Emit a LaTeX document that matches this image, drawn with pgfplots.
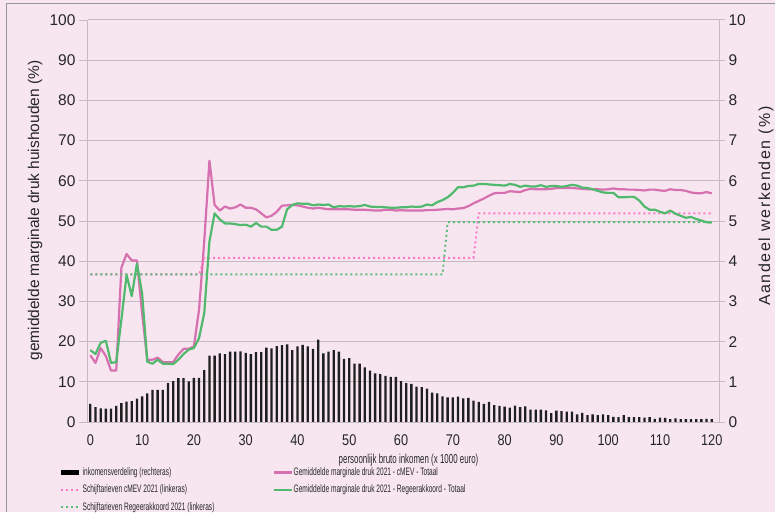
\documentclass[border=0pt]{standalone}
\usepackage{fontspec}
\setmainfont{Liberation Sans}
\newfontfamily\narrow[FakeStretch=0.61]{Liberation Sans}
\newfontfamily\narrowx[FakeStretch=0.82]{Liberation Sans}
\newfontfamily\spaced[LetterSpace=10]{Liberation Sans}
\usepackage{pgfplots}
\pgfplotsset{compat=1.18}
\usepackage{pgfplotstable}
\usetikzlibrary{backgrounds}
\definecolor{bgpink}{RGB}{247,230,240}
\definecolor{gridgray}{RGB}{196,186,192}
\definecolor{framegray}{RGB}{150,150,150}
\definecolor{cmev}{RGB}{215,112,176}
\definecolor{cmevdot}{RGB}{255,120,200}
\definecolor{regeer}{RGB}{80,185,110}
\definecolor{regeerdot}{RGB}{90,190,120}

\pgfplotstableread{
x y
0 0.45
1 0.37
2 0.34
3 0.33
4 0.33
5 0.40
6 0.47
7 0.51
8 0.52
9 0.58
10 0.64
11 0.71
12 0.80
13 0.80
14 0.80
15 0.97
16 1.02
17 1.09
18 1.09
19 1.01
20 1.10
21 1.10
22 1.29
23 1.65
24 1.65
25 1.71
26 1.69
27 1.75
28 1.75
29 1.76
30 1.72
31 1.69
32 1.74
33 1.74
34 1.85
35 1.83
36 1.89
37 1.91
38 1.93
39 1.79
40 1.88
41 1.92
42 1.88
43 1.82
44 2.05
45 1.71
46 1.75
47 1.79
48 1.75
49 1.57
50 1.59
51 1.45
52 1.45
53 1.36
54 1.28
55 1.21
56 1.19
57 1.15
58 1.12
59 1.12
60 1.02
61 0.97
62 0.95
63 0.88
64 0.87
65 0.83
66 0.73
67 0.71
68 0.64
69 0.61
70 0.61
71 0.63
72 0.59
73 0.60
74 0.53
75 0.50
76 0.45
77 0.50
78 0.42
79 0.40
80 0.38
81 0.36
82 0.41
83 0.37
84 0.39
85 0.31
86 0.31
87 0.31
88 0.29
89 0.22
90 0.28
91 0.27
92 0.26
93 0.26
94 0.19
95 0.23
96 0.17
97 0.19
98 0.17
99 0.19
100 0.17
101 0.13
102 0.12
103 0.17
104 0.12
105 0.12
106 0.12
107 0.11
108 0.12
109 0.08
110 0.11
111 0.10
112 0.07
113 0.09
114 0.07
115 0.07
116 0.07
117 0.07
118 0.07
119 0.08
120 0.07
}\bars

\pgfplotstableread{
x y
0 16.6
1 14.7
2 18.4
3 16.4
4 12.8
5 12.8
6 38.4
7 41.8
8 40.2
9 40.2
10 27.0
11 15.5
12 15.5
13 16.0
14 14.9
15 14.9
16 14.9
17 16.8
18 18.2
19 18.2
20 18.8
21 28.0
22 45.0
23 65.0
24 54.0
25 52.6
26 53.6
27 53.1
28 53.4
29 54.1
30 53.3
31 53.3
32 52.9
33 51.9
34 50.9
35 51.3
36 52.3
37 53.8
38 53.9
39 54.0
40 53.9
41 53.6
42 53.3
43 53.1
44 53.3
45 53.1
46 52.9
47 52.9
48 52.9
49 52.9
50 52.9
51 52.8
52 52.8
53 52.8
54 52.7
55 52.6
56 52.6
57 52.8
58 52.8
59 52.6
60 52.7
61 52.6
62 52.6
63 52.6
64 52.6
65 52.7
66 52.7
67 52.8
68 52.9
69 53.0
70 52.9
71 53.1
72 53.2
73 53.7
74 54.4
75 55.0
76 55.6
77 56.3
78 56.9
79 57.0
80 57.0
81 57.4
82 57.3
83 57.2
84 57.7
85 58.0
86 57.9
87 57.9
88 57.9
89 58.0
90 58.2
91 58.2
92 58.2
93 58.2
94 58.1
95 58.0
96 57.9
97 57.9
98 57.9
99 57.8
100 57.9
101 58.1
102 57.9
103 57.9
104 57.8
105 57.8
106 57.7
107 57.6
108 57.8
109 57.8
110 57.6
111 57.5
112 57.9
113 57.7
114 57.7
115 57.5
116 57.1
117 56.9
118 56.9
119 57.2
120 56.9
}\cmevline

\pgfplotstableread{
x y
0 17.9
1 16.9
2 19.7
3 20.2
4 14.7
5 14.9
6 25.5
7 36.6
8 31.3
9 39.4
10 32.0
11 15.0
12 14.5
13 15.5
14 14.5
15 14.5
16 14.4
17 15.5
18 16.9
19 18.0
20 18.4
21 20.9
22 27.1
23 44.9
24 51.9
25 50.4
26 49.4
27 49.4
28 49.2
29 49.0
30 49.1
31 48.6
32 49.5
33 48.6
34 48.6
35 47.8
36 47.8
37 48.6
38 52.9
39 54.0
40 54.4
41 54.3
42 54.3
43 53.9
44 54.1
45 54.0
46 54.1
47 53.4
48 53.7
49 53.6
50 53.7
51 53.6
52 53.7
53 54.0
54 53.6
55 53.5
56 53.5
57 53.4
58 53.3
59 53.3
60 53.4
61 53.4
62 53.6
63 53.5
64 53.6
65 54.1
66 53.9
67 54.7
68 55.2
69 55.9
70 57.0
71 58.4
72 58.4
73 58.7
74 58.8
75 59.2
76 59.2
77 59.1
78 59.0
79 58.9
80 58.8
81 59.2
82 59.0
83 58.5
84 58.8
85 58.6
86 58.6
87 58.9
88 58.5
89 58.7
90 58.7
91 58.5
92 58.7
93 59.0
94 58.8
95 58.3
96 58.2
97 57.9
98 57.5
99 57.1
100 57.0
101 57.0
102 55.9
103 55.9
104 56.0
105 56.0
106 55.1
107 53.6
108 52.8
109 52.8
110 52.3
111 51.9
112 52.6
113 51.8
114 51.3
115 50.8
116 51.0
117 50.5
118 50.1
119 49.7
120 49.6
}\regeerline

\pgfplotstableread{
x y
0 36.7
21 36.7
22 40.8
74 40.8
75 51.9
120 51.9
}\cmevstep

\pgfplotstableread{
x y
0 36.7
68 36.7
69 49.7
120 49.7
}\regeerstep

\begin{document}
\begin{tikzpicture}
\begin{axis}[
  at={(0pt,0pt)}, anchor=south west,
  scale only axis, width=631pt, height=402pt,
  xmin=-0.45, xmax=121.4, ymin=0, ymax=10,
  axis x line=none, axis y line*=right,
  ytick={0,1,...,10},
  ymajorgrids, grid style={gridgray, line width=1pt},
  axis line style={gridgray, line width=1pt},
  ytick style={gridgray, line width=1pt},
  tick align=outside, major tick length=6pt,
  /pgf/number format/assume math mode=true,
  yticklabel style={font=\fontsize{15.5}{16}\selectfont, text=black!85},
  ylabel={Aandeel werkenden (\%)},
  ylabel style={at={(axis description cs:1.0745,0.537)}, anchor=center, font=\spaced\fontsize{16}{17}\selectfont, text=black!85},
]
\addplot[ybar, bar width=0.45, fill=black!88, draw=none] table {\bars};
\end{axis}
\begin{axis}[
  at={(0pt,0pt)}, anchor=south west,
  scale only axis, width=631pt, height=402pt,
  xmin=-0.45, xmax=121.4, ymin=0, ymax=100,
  axis y line*=left, axis x line*=bottom,
  xtick={0,10,...,120}, ytick={0,10,...,100},
  axis line style={gridgray, line width=1pt},
  ytick style={gridgray, line width=1pt}, xtick style={draw=none},
  tick align=outside, major tick length=9pt,
  /pgf/number format/assume math mode=true,
  yticklabel style={font=\fontsize{15.5}{16}\selectfont, text=black!85},
  xticklabel style={font=\narrowx\fontsize{15.5}{16}\selectfont, text=black!85},
  ylabel={gemiddelde  marginale  druk huishouden (\%)},
  ylabel style={at={(axis description cs:-0.084,0.526)}, anchor=center, font=\fontsize{15.5}{16}\selectfont, text=black!85},
  xlabel={persoonlijk bruto inkomen (x 1000 euro)},
  xlabel style={at={(axis description cs:0.508,-0.0945)}, anchor=center, font=\narrow\fontsize{13}{14}\selectfont, text=black!85},
  legend columns=2,
  legend image code/.code={\draw[#1] (0pt,0pt) -- (18pt,0pt);},
  legend cell align=left,
  legend style={at={(axis description cs:-0.046,-0.111)}, anchor=north west,
    draw=none, fill=none, inner sep=0pt, row sep=6pt, column sep=0pt,
    font=\narrow\fontsize{10.8}{11.5}\selectfont, text=black!85,
    nodes={inner sep=1pt},
    /tikz/column 2/.style={column sep=57pt}},
]
\addlegendimage{line width=4.5pt, black}
\addlegendentry{inkomensverdeling (rechteras)}
\addplot[cmev, line width=2.2pt, line join=round] table {\cmevline};
\addlegendentry{Gemiddelde marginale druk 2021 - cMEV -  Totaal}
\addplot[cmevdot, line width=2pt, dash pattern=on 2pt off 3pt] table {\cmevstep};
\addlegendentry{Schijftarieven cMEV 2021 (linkeras)}
\addplot[regeer, line width=2.2pt, line join=round] table {\regeerline};
\addlegendentry{Gemiddelde marginale druk 2021 - Regeerakkoord -  Totaal}
\addplot[regeerdot, line width=2pt, dash pattern=on 2pt off 3pt] table {\regeerstep};
\addlegendentry{Schijftarieven Regeerakkoord 2021 (linkeras)}
\end{axis}
\begin{scope}[on background layer]
\fill[bgpink] (-88pt,-90pt) rectangle (687pt,422pt);
\draw[framegray, line width=1pt] (-81pt,-90pt) -- (-81pt,418pt) -- (687pt,418pt);
\end{scope}
\pgfresetboundingbox
\useasboundingbox (-88pt,-90pt) rectangle (687pt,422pt);
\end{tikzpicture}
\end{document}
